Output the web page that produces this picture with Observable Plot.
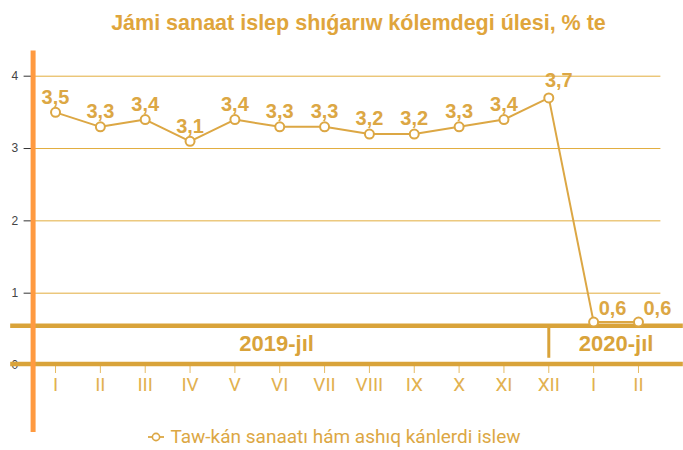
<!DOCTYPE html>
<html>
<head>
<meta charset="utf-8">
<script src="https://cdn.jsdelivr.net/npm/d3@7"></script>
<script src="https://cdn.jsdelivr.net/npm/@observablehq/plot@0.6"></script>
<style>
  html, body { margin: 0; padding: 0; background: #fff; }
  #wrap { position: relative; width: 683px; height: 450px; overflow: hidden; }
  #title { position: absolute; left: 34px; top: 11px; width: 649px; text-align: center; white-space: nowrap;
    font: bold 21.5px "Liberation Sans", Arial, sans-serif; color: #dfa53c; }
  #legend { position: absolute; left: -7px; top: 425px; width: 683px; text-align: center; white-space: nowrap;
    font: 19px Roboto, sans-serif; color: #dca744; }
  #legend svg { vertical-align: 0px; margin-right: 6px; }
  #chart { position: absolute; left: 0; top: 0; }
</style>
</head>
<body>
<div id="wrap">
  <div id="chart"></div>
  <div id="title">Jámi sanaat islep shıǵarıw kólemdegi úlesi, % te</div>
  <div id="legend"><svg width="16" height="12"><line x1="0" y1="6" x2="16" y2="6" stroke="#dca744" stroke-width="1.8"/><circle cx="8" cy="6" r="3.6" fill="#fff" stroke="#dca744" stroke-width="1.6"/></svg>Taw-kán sanaatı hám ashıq kánlerdi islew</div>
</div>
<script>
const months = ["I","II","III","IV","V","VI","VII","VIII","IX","X","XI","XII","I","II"];
const values = [3.5,3.3,3.4,3.1,3.4,3.3,3.3,3.2,3.2,3.3,3.4,3.7,0.6,0.6];
const labels = ["3,5","3,3","3,4","3,1","3,4","3,3","3,3","3,2","3,2","3,3","3,4","3,7","0,6","0,6"];
const years = ["2019-jıl","2020-jıl"];
const yTicks = [0,1,2,3,4];

const data = values.map((v, i) => ({i, v, label: labels[i], month: months[i]}));

const gold = "#dca744";
const band = "#d9a33a";
const labelFont = "Liberation Sans, Arial, sans-serif";

const plot = Plot.plot({
  width: 683,
  height: 450,
  marginLeft: 32.6,
  marginRight: 22.6,
  marginTop: 75.7,
  marginBottom: 85,
  x: {type: "linear", domain: [-0.5, 13.5], label: null},
  y: {domain: [0, 4], label: null},
  style: {background: "transparent", overflow: "visible"},
  marks: [
    Plot.ruleY(yTicks.filter(d => d > 0), {stroke: "#e2ad3e", strokeWidth: 1}),
    Plot.axisY(yTicks, {anchor: "left", label: null, tickSize: 9, tickPadding: 6, stroke: "#333", fill: "#444",
      fontSize: 12, fontFamily: labelFont, tickFormat: d => String(d)}),
    Plot.axisX(d3.range(months.length), {anchor: "bottom", label: null, tickSize: 8, tickPadding: 4,
      stroke: "#e6bb62", fill: "#e2b150", fontSize: 19, fontFamily: "Roboto, sans-serif",
      tickFormat: i => months[i]}),
    // year band
    Plot.ruleY([0.55, 0.02], {x1: -1, x2: 14, stroke: band, strokeWidth: 4.5}),
    Plot.ruleX([11], {y1: 0.1, y2: 0.55, stroke: band, strokeWidth: 3}),
    Plot.text(years, {x: [4.93, 12.5], y: 0.3, text: d => d, fill: band, fontSize: 22,
      fontWeight: "bold", fontFamily: labelFont}),
    // orange vertical bar
    Plot.ruleX([-0.5], {y1: -0.925, y2: 4.35, stroke: "#ff9a40", strokeWidth: 5}),
    // series
    Plot.line(data, {x: "i", y: "v", stroke: gold, strokeWidth: 2}),
    Plot.dot(data, {x: "i", y: "v", r: 4.5, fill: "#fff", stroke: gold, strokeWidth: 2}),
    Plot.text(data, {filter: d => d.i <= 10, x: "i", y: "v", text: "label", dy: -15,
      fill: gold, fontSize: 20, fontWeight: "bold", fontFamily: labelFont}),
    Plot.text(data, {filter: d => d.i === 11, x: "i", y: "v", text: "label", dy: -17, dx: 10,
      fill: gold, fontSize: 20, fontWeight: "bold", fontFamily: labelFont}),
    Plot.text(data, {filter: d => d.i >= 12, x: "i", y: "v", text: "label", dy: -14, dx: 5,
      textAnchor: "start", fill: gold, fontSize: 20, fontWeight: "bold", fontFamily: labelFont})
  ]
});
document.getElementById("chart").appendChild(plot);
</script>
</body>
</html>
